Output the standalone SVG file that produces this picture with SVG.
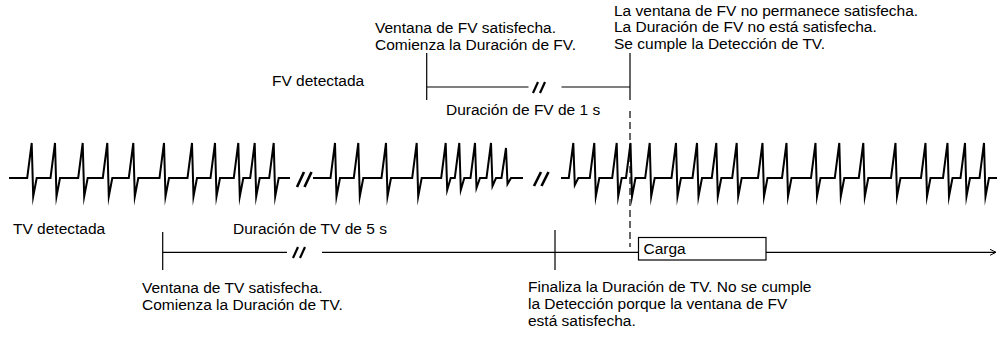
<svg xmlns="http://www.w3.org/2000/svg" width="997" height="338" viewBox="0 0 997 338">
<style>
text{font-family:"Liberation Sans",Arial,sans-serif;font-size:15.5px;fill:#000}
.ecg{fill:none;stroke:#000;stroke-width:2;stroke-linejoin:miter;stroke-miterlimit:10}
.tl{fill:none;stroke:#000;stroke-width:1.2}
.brk{fill:none;stroke:#000;stroke-width:2.6}
.brks{fill:none;stroke:#000;stroke-width:2.2}
.dash{fill:none;stroke:#000;stroke-width:1.2;stroke-dasharray:7 4}
</style>
<defs>
<marker id="arr" markerWidth="8" markerHeight="8" refX="7" refY="4" orient="auto" markerUnits="userSpaceOnUse">
<path d="M1,1 L7,4 L1,7" fill="none" stroke="#000" stroke-width="1"/>
</marker>
</defs>
<rect width="997" height="338" fill="#fff"/>

<g id="ecg">
<path class="ecg" d="M9,178 H27.2 l4.5,-35 l1.5,53.5 l3.5,-18.5 H50.5 l4.5,-35 l1.5,53.5 l3.5,-18.5 H78.2 l4.5,-35 l1.5,53.5 l3.5,-18.5 H102.8 l4.5,-35 l1.5,53.5 l3.5,-18.5 H128.8 l4.5,-35 l1.5,53.5 l3.5,-18.5 H159.5 l4.5,-35 l1.5,53.5 l3.5,-18.5 H187.5 l4.5,-35 l1.5,53.5 l3.5,-18.5 H210.5 l4.5,-35 l1.5,53.5 l3.5,-18.5 H233.8 l4.5,-35 l1.5,53.5 l3.5,-18.5 H250.2 l4.5,-35 l1.5,53.5 l3.5,-18.5 H269.2 l4.5,-35 l1.5,53.5 l3.5,-18.5 H290"/>
<path class="ecg" d="M313,178 H330.5 l4.5,-35 l1.5,53.5 l3.5,-18.5 H353.8 l4.5,-35 l1.5,53.5 l3.5,-18.5 H381.5 l4.5,-35 l1.5,53.5 l3.5,-18.5 H412.2 l4.5,-35 l1.5,53.5 l3.5,-18.5 H441.2 l4.5,-35 l1.5,47 l3.5,-12 H454.8 l4.5,-35 l1.5,47 l3.5,-12 H470.5 l4.5,-35 l1.5,45 l3.5,-10 H486.5 l4.5,-35 l1.5,43 l3.5,-8 H501.5 l4.5,-30 l1.5,36 l3.5,-6 H523"/>
<path class="ecg" d="M561,178 H568.8 l4.5,-35 l1.5,42 l3.5,-7 H589.8 l4.5,-35 l1.5,53.5 l3.5,-18.5 H612.2 l4.5,-35 l1.5,53.5 l3.5,-18.5 H626 l4.5,-35 l1.5,53.5 l3.5,-18.5 H645.2 l4.5,-35 l1.5,53.5 l3.5,-18.5 H671.5 l4.5,-35 l1.5,53.5 l3.5,-18.5 H692.5 l4.5,-35 l1.5,53.5 l3.5,-18.5 H711.8 l4.5,-35 l1.5,53.5 l3.5,-18.5 H732.2 l4.5,-35 l1.5,53.5 l3.5,-18.5 H758 l4.5,-35 l1.5,53.5 l3.5,-18.5 H782 l4.5,-35 l1.5,53.5 l3.5,-18.5 H811 l4.5,-35 l1.5,53.5 l3.5,-18.5 H834.8 l4.5,-35 l1.5,53.5 l3.5,-18.5 H858.8 l4.5,-35 l1.5,53.5 l3.5,-18.5 H891 l4.5,-35 l1.5,53.5 l3.5,-18.5 H921 l4.5,-35 l1.5,53.5 l3.5,-18.5 H943 l4.5,-35 l1.5,53.5 l3.5,-18.5 H960.5 l4.5,-35 l1.5,53.5 l3.5,-18.5 H979.5 l4.5,-35 l1.5,53.5 l3.5,-18.5 H997"/>
<path class="brk" d="M297,187 L304,172 M304.5,187 L311.5,172"/>
<path class="brk" d="M534,186 L541,172 M541.5,186 L548.5,172"/>
</g>

<g id="fv-timeline">
<path class="tl" d="M426.7,53 V100 M630,53 V100 M426.7,87 H528.5 M561.5,87 H630"/>
<path class="brks" d="M533,93 L538,82 M540,93 L545,82"/>
<text x="272" y="86">FV detectada</text>
<text x="446" y="115">Duración de FV de 1 s</text>
</g>

<g id="fv-start">
<text x="375" y="33">Ventana de FV satisfecha.</text>
<text x="375" y="49.5">Comienza la Duración de FV.</text>
</g>

<g id="fv-end">
<text x="614" y="16">La ventana de FV no permanece satisfecha.</text>
<text x="614" y="32">La Duración de FV no está satisfecha.</text>
<text x="614" y="48.5">Se cumple la Detección de TV.</text>
</g>

<g id="connectors">
<path class="dash" d="M630,111 V247"/>
</g>

<g id="tv-timeline">
<path class="tl" d="M162.7,232 V270 M555,230 V270 M162.7,252.3 H287 M322,252.3 H638.5"/>
<path class="tl" d="M766,252.3 H996" marker-end="url(#arr)"/>
<path class="brks" d="M293,258 L298,247 M300,258 L305,247"/>
<text x="13" y="234">TV detectada</text>
<text x="233" y="234">Duración de TV de 5 s</text>
</g>

<g id="tv-start">
<text x="142" y="293">Ventana de TV satisfecha.</text>
<text x="142" y="310">Comienza la Duración de TV.</text>
</g>

<g id="tv-end">
<text x="528" y="292">Finaliza la Duración de TV. No se cumple</text>
<text x="528" y="309">la Detección porque la ventana de FV</text>
<text x="528" y="326">está satisfecha.</text>
</g>

<g id="carga">
<rect x="638.5" y="237.5" width="127.5" height="22.5" fill="#fff" stroke="#000" stroke-width="1.2"/>
<text x="643.5" y="253.5">Carga</text>
</g>
</svg>
